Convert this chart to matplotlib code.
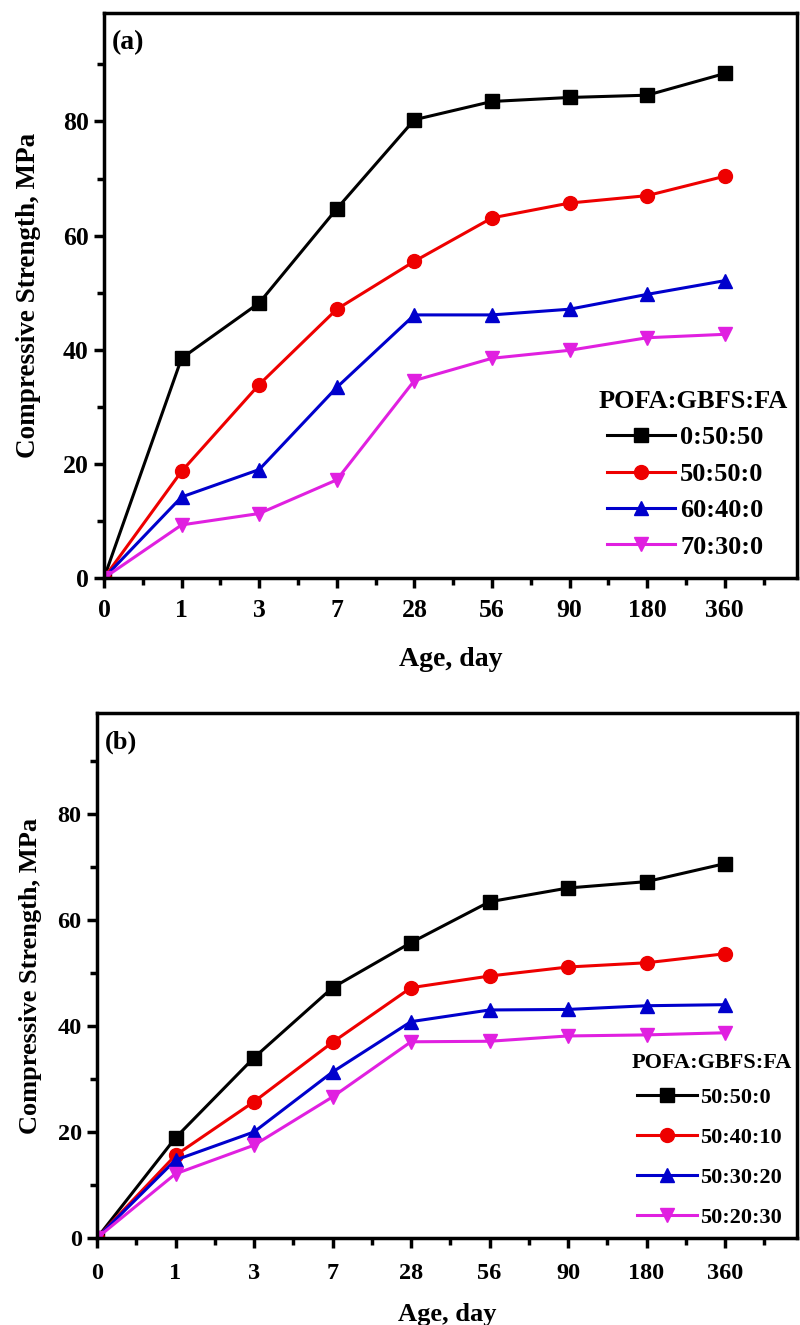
import matplotlib
matplotlib.use("Agg")
import matplotlib.pyplot as plt
from matplotlib.ticker import FixedLocator

plt.rcParams['font.family'] = ['Liberation Serif', 'DejaVu Serif']
plt.rcParams['font.weight'] = 'bold'

ages = ["0", "1", "3", "7", "28", "56", "90", "180", "360"]

# Panel (a)
labels_a = ["0:50:50", "50:50:0", "60:40:0", "70:30:0"]
a_0_50_50 = [0, 38.5, 48.2, 64.7, 80.3, 83.5, 84.2, 84.6, 88.4]
a_50_50_0 = [0, 18.7, 33.9, 47.1, 55.5, 63.1, 65.7, 67.0, 70.4]
a_60_40_0 = [0, 14.2, 19.0, 33.4, 46.1, 46.1, 47.1, 49.7, 52.1]
a_70_30_0 = [0, 9.3, 11.3, 17.2, 34.6, 38.5, 39.9, 42.1, 42.7]

# Panel (b)
labels_b = ["50:50:0", "50:40:10", "50:30:20", "50:20:30"]
b_50_50_0 = [0, 18.9, 34.0, 47.2, 55.7, 63.4, 66.0, 67.2, 70.6]
b_50_40_10 = [0, 15.6, 25.7, 36.9, 47.2, 49.4, 51.1, 51.9, 53.6]
b_50_30_20 = [0, 14.7, 20.0, 31.3, 40.8, 43.0, 43.1, 43.8, 44.0]
b_50_20_30 = [0, 12.1, 17.5, 26.6, 37.0, 37.1, 38.1, 38.3, 38.7]

legend_title = "POFA:GBFS:FA"
colors = ["#000000", "#ee0000", "#0000cc", "#e020e0"]
markers = ["s", "o", "^", "v"]

W, H = 800, 1325
fig = plt.figure(figsize=(W / 100, H / 100), dpi=100)


def fx(px):
    return px / W


def fy(py):
    return 1 - py / H


def make_panel(rect, series, labels, tag, cfg):
    ax = fig.add_axes(rect)
    x = list(range(len(ages)))
    for vals, lab, c, m in zip(series, labels, colors, markers):
        ax.plot(x, vals, color=c, marker=m, markersize=10, linewidth=2.2,
                markeredgecolor=c, label=lab)
    ax.set_xlim(0, cfg['xmax'])
    ax.set_ylim(0, 99)
    ax.set_xticks(x)
    ax.set_xticklabels(ages)
    ax.xaxis.set_minor_locator(FixedLocator([i + 0.5 for i in range(9)]))
    ax.set_yticks([0, 20, 40, 60, 80])
    ax.yaxis.set_minor_locator(FixedLocator([10, 30, 50, 70, 90]))
    ax.tick_params(which='major', direction='out', length=7, width=2.5,
                   labelsize=cfg['tick_fs'], pad=4)
    ax.tick_params(which='minor', direction='out', length=5, width=2.5)
    ax.tick_params(axis='x', which='major', pad=cfg['xpad'])
    for lbl in ax.get_xticklabels() + ax.get_yticklabels():
        lbl.set_fontweight('bold')
    for sp in ax.spines.values():
        sp.set_linewidth(2.5)
    ax.set_xlabel("Age, day", fontsize=cfg['xl_fs'], fontweight='bold',
                  labelpad=cfg['xlpad'])
    ax.set_ylabel("Compressive Strength, MPa", fontsize=cfg['yl_fs'],
                  fontweight='bold', labelpad=cfg['ylpad'])
    ax.text(fx(cfg['tag_xy'][0]), fy(cfg['tag_xy'][1]), tag, transform=fig.transFigure,
            fontsize=cfg['tag_fs'], fontweight='bold', ha='left', va='center')
    fig.text(fx(cfg['title_xy'][0]), fy(cfg['title_xy'][1]), legend_title,
             fontsize=cfg['leg_fs'], fontweight='bold', ha='left', va='center')
    ax.legend(loc='upper left', bbox_to_anchor=(fx(cfg['leg_xy'][0]), fy(cfg['leg_xy'][1])),
              bbox_transform=fig.transFigure, frameon=False,
              prop={'size': cfg['leg_fs'], 'weight': 'bold'},
              handlelength=cfg['hl'], handletextpad=cfg['htp'],
              labelspacing=cfg['ls'], borderpad=0, borderaxespad=0)
    return ax


cfg_a = dict(xmax=(797 - 104) / 77.6, tick_fs=18.5, xpad=8, xl_fs=20, xlpad=18,
             yl_fs=19.5, ylpad=16, tag_xy=(112, 43), tag_fs=20,
             title_xy=(599, 402), leg_xy=(607, 426), leg_fs=19,
             hl=2.58, htp=0.19, ls=0.49)
cfg_b = dict(xmax=(797 - 97) / 78.5, tick_fs=17.5, xpad=11, xl_fs=19, xlpad=14,
             yl_fs=19, ylpad=11, tag_xy=(105, 742), tag_fs=19,
             title_xy=(632, 1063), leg_xy=(637, 1087), leg_fs=16,
             hl=2.7, htp=0.14, ls=0.88)

make_panel([fx(104), (H - 578) / H, (797 - 104) / W, (578 - 13) / H],
           [a_0_50_50, a_50_50_0, a_60_40_0, a_70_30_0], labels_a, "(a)", cfg_a)

make_panel([fx(97), (H - 1238) / H, (797 - 97) / W, (1238 - 713) / H],
           [b_50_50_0, b_50_40_10, b_50_30_20, b_50_20_30], labels_b, "(b)", cfg_b)

fig.savefig("out.png", dpi=100)
